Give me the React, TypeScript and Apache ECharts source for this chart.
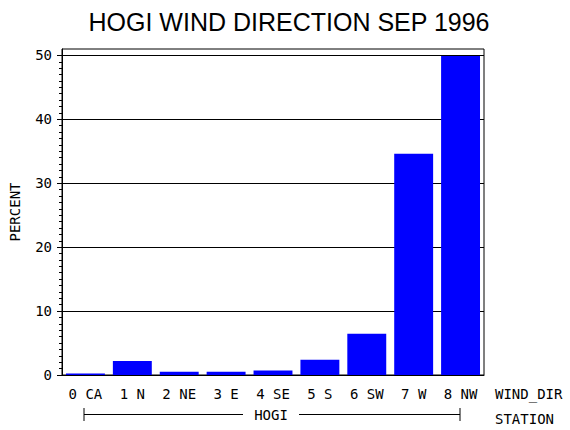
import React, { useEffect, useRef } from 'react';
import * as echarts from 'echarts';

const categories = ['0 CA', '1 N', '2 NE', '3 E', '4 SE', '5 S', '6 SW', '7 W', '8 NW'];
const percents = [0.25, 2.2, 0.5, 0.5, 0.7, 2.4, 6.45, 34.6, 49.9];
const yTicks = [0, 10, 20, 30, 40, 50];
const stationName = 'HOGI';

const MONO = '"DejaVu Sans Mono", monospace';

const App: React.FC = () => {
    const chartRef = useRef<HTMLDivElement>(null);

    useEffect(() => {
        if (!chartRef.current) return;
        const chart = echarts.init(chartRef.current, undefined, { renderer: 'svg' });

        const option: echarts.EChartsOption = {
            animation: false,
            backgroundColor: '#ffffff',
            title: {
                text: 'HOGI WIND DIRECTION SEP 1996',
                left: 284,
                top: 4,
                textAlign: 'center',
                textStyle: {
                    fontFamily: '"Liberation Sans", Arial, sans-serif',
                    fontSize: 25,
                    fontWeight: 'normal',
                    color: '#000',
                },
            },
            grid: {
                left: 58,
                right: 86,
                top: 49,
                bottom: 55,
                show: true,
                borderColor: '#000',
                borderWidth: 1,
                backgroundColor: 'transparent',
            },
            xAxis: {
                type: 'category',
                data: categories,
                axisLine: { lineStyle: { color: '#000', width: 1 } },
                axisTick: { show: false },
                axisLabel: {
                    color: '#000',
                    fontFamily: MONO,
                    fontSize: 14,
                    margin: 12,
                    interval: 0,
                },
            },
            yAxis: {
                type: 'value',
                min: 0,
                max: 51,
                interval: 10,
                name: 'PERCENT',
                nameLocation: 'middle',
                nameGap: 40,
                nameTextStyle: { color: '#000', fontFamily: MONO, fontSize: 14 },
                axisLine: { show: true, lineStyle: { color: '#000', width: 1 } },
                axisTick: {
                    show: true,
                    inside: false,
                    length: 5,
                    lineStyle: { color: '#000' },
                    customValues: yTicks,
                },
                minorTick: {
                    show: true,
                    splitNumber: 10,
                    length: 3,
                    lineStyle: { color: '#000' },
                },
                axisLabel: {
                    color: '#000',
                    fontFamily: MONO,
                    fontSize: 14,
                    margin: 10,
                    customValues: yTicks,
                },
                splitLine: { show: true, lineStyle: { color: '#000', width: 1 } },
            },
            series: [
                {
                    type: 'bar',
                    data: percents,
                    barCategoryGap: '17%',
                    itemStyle: { color: '#0000ff' },
                },
            ],
            graphic: [
                {
                    type: 'text',
                    left: 495,
                    top: 387,
                    style: { text: 'WIND_DIR', fill: '#000', font: `14px ${MONO}` },
                },
                {
                    type: 'text',
                    left: 495,
                    top: 412,
                    style: { text: 'STATION', fill: '#000', font: `14px ${MONO}` },
                },
                {
                    type: 'line',
                    shape: { x1: 84, y1: 408, x2: 84, y2: 421 },
                    style: { stroke: '#000', lineWidth: 1 },
                },
                {
                    type: 'line',
                    shape: { x1: 460, y1: 408, x2: 460, y2: 421 },
                    style: { stroke: '#000', lineWidth: 1 },
                },
                {
                    type: 'line',
                    shape: { x1: 84, y1: 414.5, x2: 243, y2: 414.5 },
                    style: { stroke: '#000', lineWidth: 1 },
                },
                {
                    type: 'line',
                    shape: { x1: 299, y1: 414.5, x2: 460, y2: 414.5 },
                    style: { stroke: '#000', lineWidth: 1 },
                },
                {
                    type: 'text',
                    x: 271,
                    y: 415,
                    style: {
                        text: stationName,
                        fill: '#000',
                        font: `14px ${MONO}`,
                        align: 'center',
                        verticalAlign: 'middle',
                    },
                },
            ],
        } as any;

        chart.setOption(option);

        return () => {
            chart.dispose();
        };
    }, []);

    return (
        <div
            ref={chartRef}
            style={{ position: 'absolute', left: 0, top: 0, width: 570, height: 430 }}
        />
    );
};

export default App;
